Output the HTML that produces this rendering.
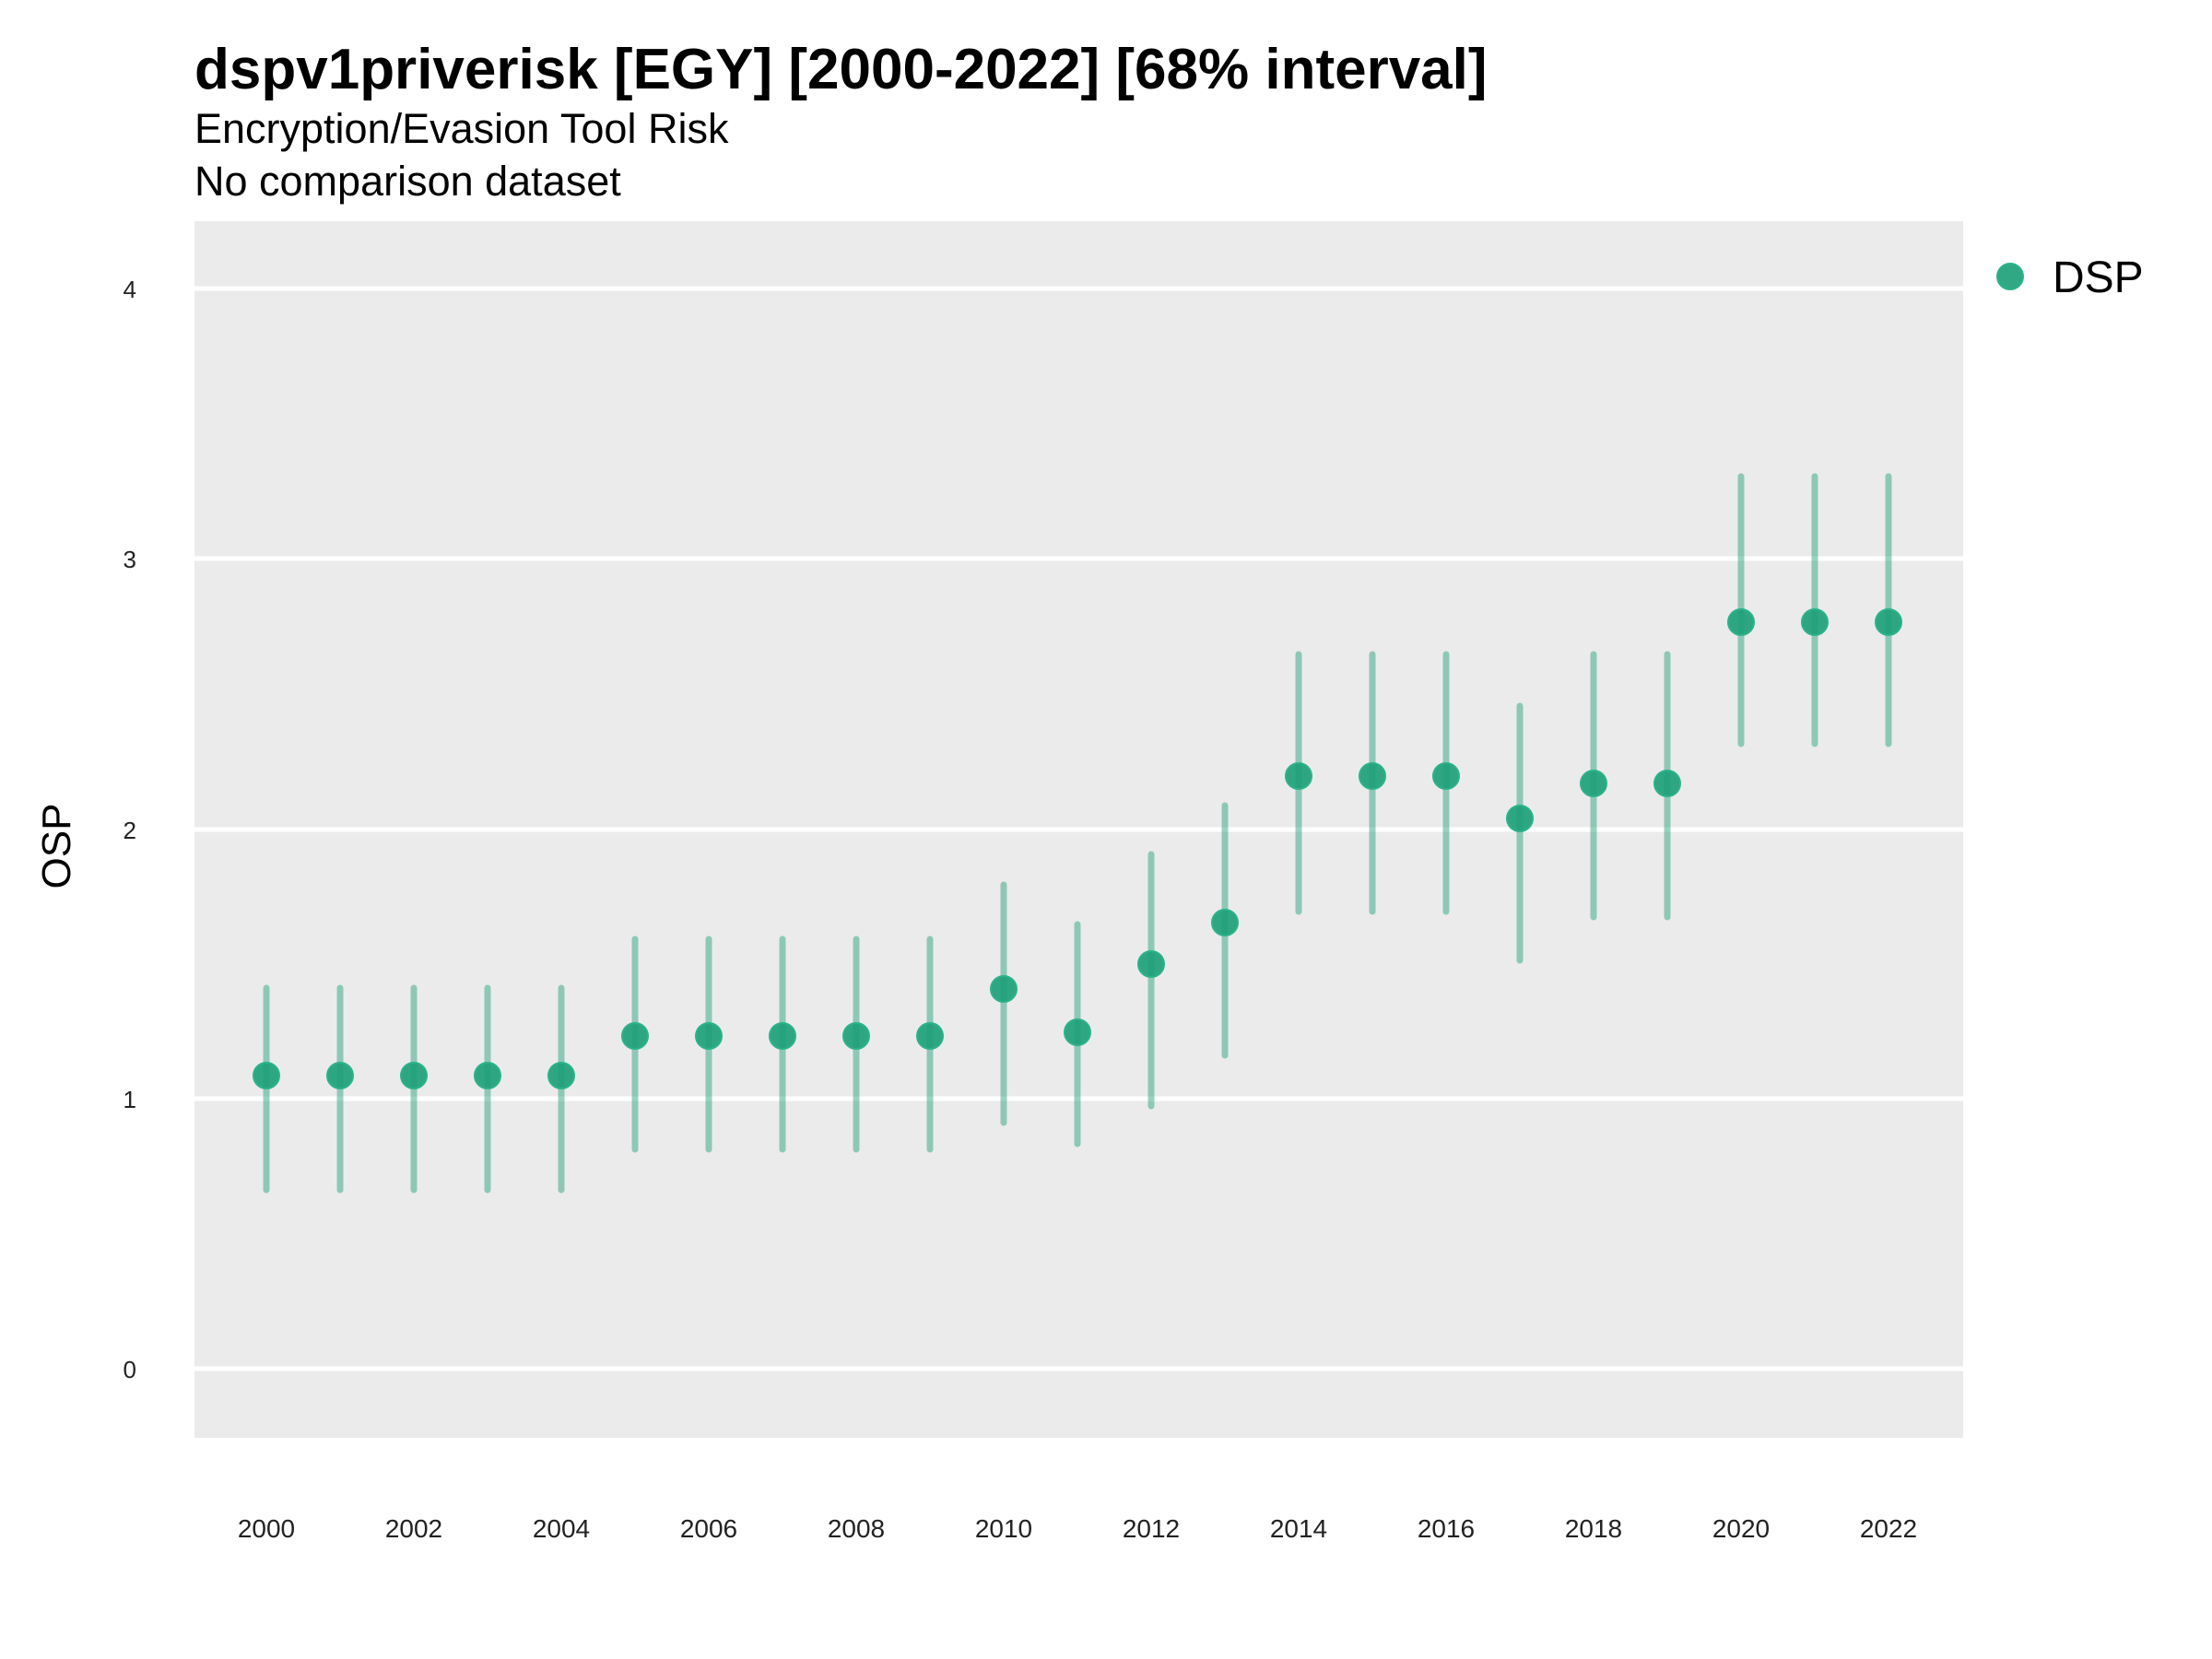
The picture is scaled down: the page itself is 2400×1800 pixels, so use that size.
<!DOCTYPE html>
<html><head><style>body{margin:0;background:#fff}svg{display:block}</style></head>
<body>
<svg width="2400" height="1800" xmlns="http://www.w3.org/2000/svg" font-family="Liberation Sans, sans-serif">
<rect x="211" y="240" width="1919" height="1320" fill="#ebebeb"/>
<g stroke="#fff" stroke-width="5">
<line x1="211" x2="2130" y1="313" y2="313"/>
<line x1="211" x2="2130" y1="606" y2="606"/>
<line x1="211" x2="2130" y1="900" y2="900"/>
<line x1="211" x2="2130" y1="1192" y2="1192"/>
<line x1="211" x2="2130" y1="1485" y2="1485"/>
</g>
<g font-size="26" text-anchor="end" fill="#222">
<text x="148" y="323">4</text><text x="148" y="616">3</text><text x="148" y="910">2</text><text x="148" y="1202">1</text><text x="148" y="1495">0</text>
</g>
<g font-size="28" text-anchor="middle" fill="#222">
<text x="289" y="1668">2000</text><text x="449" y="1668">2002</text><text x="609" y="1668">2004</text><text x="769" y="1668">2006</text><text x="929" y="1668">2008</text><text x="1089" y="1668">2010</text><text x="1249" y="1668">2012</text><text x="1409" y="1668">2014</text><text x="1569" y="1668">2016</text><text x="1729" y="1668">2018</text><text x="1889" y="1668">2020</text><text x="2049" y="1668">2022</text>
</g>
<text transform="translate(76,918) rotate(-90)" font-size="44" text-anchor="middle">OSP</text>
<text x="211" y="96" font-size="62" font-weight="bold">dspv1priverisk [EGY] [2000-2022] [68% interval]</text>
<text x="211" y="155" font-size="45">Encryption/Evasion Tool Risk</text>
<text x="211" y="212" font-size="45">No comparison dataset</text>
<g stroke="#1b9e77" stroke-opacity="0.45" stroke-width="7" stroke-linecap="round">
<line x1="289" x2="289" y1="1072" y2="1291"/><line x1="369" x2="369" y1="1072" y2="1291"/><line x1="449" x2="449" y1="1072" y2="1291"/><line x1="529" x2="529" y1="1072" y2="1291"/><line x1="609" x2="609" y1="1072" y2="1291"/>
<line x1="689" x2="689" y1="1019" y2="1247"/><line x1="769" x2="769" y1="1019" y2="1247"/><line x1="849" x2="849" y1="1019" y2="1247"/><line x1="929" x2="929" y1="1019" y2="1247"/><line x1="1009" x2="1009" y1="1019" y2="1247"/>
<line x1="1089" x2="1089" y1="960" y2="1218"/><line x1="1169" x2="1169" y1="1003" y2="1241"/><line x1="1249" x2="1249" y1="927" y2="1200"/><line x1="1329" x2="1329" y1="874" y2="1145"/>
<line x1="1409" x2="1409" y1="710" y2="989"/><line x1="1489" x2="1489" y1="710" y2="989"/><line x1="1569" x2="1569" y1="710" y2="989"/>
<line x1="1649" x2="1649" y1="766" y2="1042"/><line x1="1729" x2="1729" y1="710" y2="995"/><line x1="1809" x2="1809" y1="710" y2="995"/>
<line x1="1889" x2="1889" y1="517" y2="807"/><line x1="1969" x2="1969" y1="517" y2="807"/><line x1="2049" x2="2049" y1="517" y2="807"/>
</g>
<g fill="#1b9e77" fill-opacity="0.9" stroke="#2bb38a" stroke-width="2">
<circle cx="289" cy="1167" r="14"/><circle cx="369" cy="1167" r="14"/><circle cx="449" cy="1167" r="14"/><circle cx="529" cy="1167" r="14"/><circle cx="609" cy="1167" r="14"/>
<circle cx="689" cy="1124" r="14"/><circle cx="769" cy="1124" r="14"/><circle cx="849" cy="1124" r="14"/><circle cx="929" cy="1124" r="14"/><circle cx="1009" cy="1124" r="14"/>
<circle cx="1089" cy="1073" r="14"/><circle cx="1169" cy="1120" r="14"/><circle cx="1249" cy="1046" r="14"/><circle cx="1329" cy="1001" r="14"/>
<circle cx="1409" cy="842" r="14"/><circle cx="1489" cy="842" r="14"/><circle cx="1569" cy="842" r="14"/>
<circle cx="1649" cy="888" r="14"/><circle cx="1729" cy="850" r="14"/><circle cx="1809" cy="850" r="14"/>
<circle cx="1889" cy="675" r="14"/><circle cx="1969" cy="675" r="14"/><circle cx="2049" cy="675" r="14"/>
<circle cx="2181" cy="300" r="14" fill-opacity="0.9"/>
</g>
<text x="2227" y="317" font-size="48">DSP</text>
</svg>
</body></html>
